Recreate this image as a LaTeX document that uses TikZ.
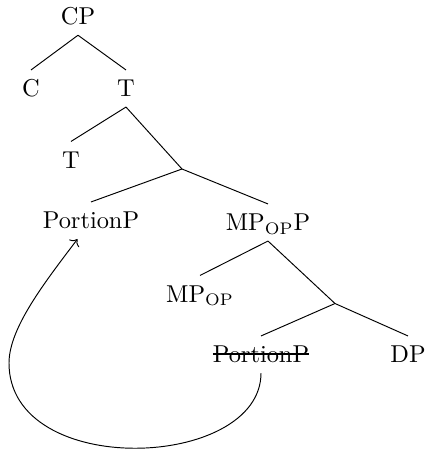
\documentclass[tikz,border=0pt]{standalone}
\usetikzlibrary{arrows.meta}
\newsavebox{\trbox}
\newcommand{\tracecopy}[1]{\sbox{\trbox}{#1}\rlap{\rule[0.78ex]{\wd\trbox}{0.8pt}}\usebox{\trbox}}
\tikzset{
  cat/.style={inner sep=2pt,outer sep=2.3pt,text height=6.9pt,text depth=0pt,
    font=\fontsize{10.2}{12}\selectfont},
  branch/.style={draw=black,line width=0.4pt},
  move arrow/.style={->,line width=0.4pt},
}

\begin{document}
\begin{tikzpicture}[x=0.418pt,y=-0.418pt]
  \useasboundingbox (0,0) rectangle (424,452);

  \node[cat] (cp) at (78,16.7) {CP};
  \node[cat] (c) at (31,88.5) {C};
  \node[cat] (tbar) at (126,88.5) {T};
  \node[cat] (t) at (71,160) {T};
  \coordinate (tsplit) at (182,169);
  \node[cat] (portion) at (91,220.5) {PortionP};
  \node[cat] (mpp) at (268,222.5) {MP$_{\mathrm{OP}}$P};
  \node[cat] (mp) at (200,294) {MP$_{\mathrm{OP}}$};
  \coordinate (msplit) at (335,303.5);
  \node[cat] (trace) at (261,354.5) {\tracecopy{PortionP}};
  \node[cat] (dp) at (408,354.5) {DP};
  \coordinate (bend) at (9,363);

  % branches
  \draw[branch] (cp.south) -- (c.north);
  \draw[branch] (cp.south) -- (tbar.north);
  \draw[branch] (tbar.south) -- (t.north);
  \draw[branch] (tbar.south) -- (tsplit);
  \draw[branch] (tsplit) -- (portion.north);
  \draw[branch] (tsplit) -- (mpp.north);
  \draw[branch] (mpp.south) -- (mp.north);
  \draw[branch] (mpp.south) -- (msplit);
  \draw[branch] (msplit) -- (trace.north);
  \draw[branch] (msplit) -- (dp.north);

  % movement
  \draw[move arrow] (trace.south) .. controls (261,470) and (9,480) .. (bend)
    .. controls (9,328) and (45,282) .. (portion.-126);

\end{tikzpicture}
\end{document}
